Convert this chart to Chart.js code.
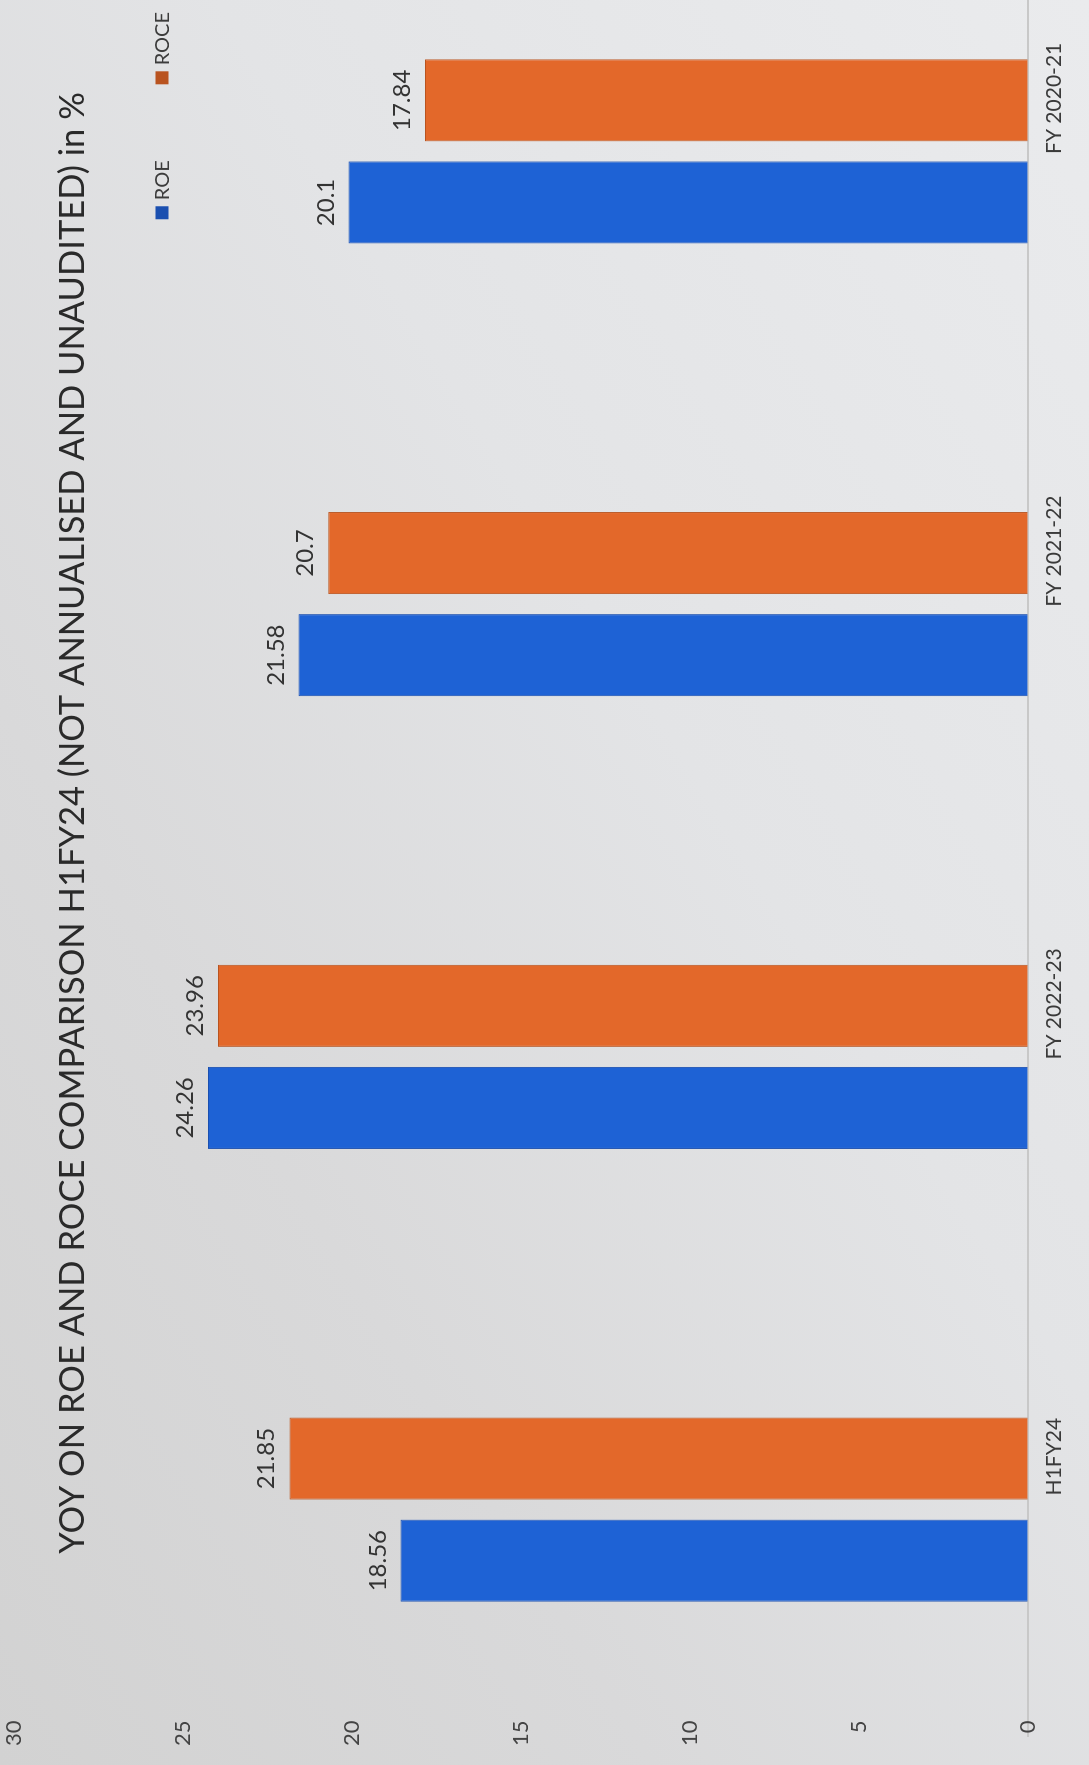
<!DOCTYPE html>
<html>
<head>
<meta charset="utf-8">
<script src="https://cdn.jsdelivr.net/npm/chart.js@4.4.1/dist/chart.umd.min.js"></script>
<style>
html, body { margin: 0; padding: 0; width: 1089px; height: 1765px; overflow: hidden; }
body { background: linear-gradient(to top right, #d2d2d2 0%, #d9d9da 30%, #e3e4e6 60%, #eaebed 100%); }
#frame { position: absolute; left: 0; top: 0; width: 1089px; height: 1765px; overflow: hidden; }
#rot { position: absolute; left: 0; top: 0; width: 1840px; height: 1089px;
       transform-origin: 0 0; transform: translate(0px, 1765px) rotate(-90deg); }
canvas { display: block; }
</style>
</head>
<body>
<div id="frame"><div id="rot"><canvas id="c" width="1840" height="1089" style="width:1840px;height:1089px"></canvas></div></div>
<script>
// ---- data ----
const chartTitle = 'YOY ON ROE AND ROCE COMPARISON H1FY24 (NOT ANNUALISED AND UNAUDITED) in %';
const categories = ['H1FY24', 'FY 2022-23', 'FY 2021-22', 'FY 2020-21'];
const seriesNames = ['ROE', 'ROCE'];
const roeValues = [18.56, 24.26, 21.58, 20.1];
const roceValues = [21.85, 23.96, 20.7, 17.84];
const valueTicks = [0, 5, 10, 15, 20, 25, 30];

// ---- style ----
const seriesColors = ['#1e62d5', '#e3682a'];
const seriesBorders = ['#1a4fb0', '#b9531f'];
const FONT = 'Lato, "Liberation Sans", sans-serif';

const titlePlugin = {
  id: 'photoTitle',
  afterDraw(chart) {
    const { ctx } = chart;
    ctx.save();
    ctx.font = '34.5px ' + FONT;
    ctx.fillStyle = '#2a2a2a';
    ctx.textAlign = 'center';
    ctx.textBaseline = 'alphabetic';
    ctx.fillText(chartTitle, chart.width / 2 + 22, 84);
    ctx.restore();
  }
};

const legendPlugin = {
  id: 'photoLegend',
  afterDraw(chart) {
    const { ctx, chartArea } = chart;
    const ds = chart.data.datasets;
    ctx.save();
    ctx.font = '20px ' + FONT;
    ctx.textBaseline = 'middle';
    ctx.textAlign = 'left';
    const box = 13, gapBox = 6, gapItem = 76, cy = 162;
    const widths = ds.map(d => box + gapBox + ctx.measureText(d.label).width);
    const total = widths.reduce((a, b) => a + b, 0) + gapItem * (ds.length - 1);
    let x = chartArea.right - 87 - total;
    ds.forEach((d, i) => {
      ctx.fillStyle = d.borderColor;
      ctx.fillRect(x, cy - box / 2, box, box);
      ctx.fillStyle = '#3c3c3c';
      ctx.fillText(d.label, x + box + gapBox, cy + 1);
      x += widths[i] + gapItem;
    });
    ctx.restore();
  }
};

const valueLabelPlugin = {
  id: 'valueLabels',
  afterDatasetsDraw(chart) {
    const { ctx } = chart;
    ctx.save();
    ctx.font = '24px ' + FONT;
    ctx.fillStyle = '#333333';
    ctx.textAlign = 'center';
    ctx.textBaseline = 'alphabetic';
    chart.data.datasets.forEach((d, i) => {
      chart.getDatasetMeta(i).data.forEach((bar, j) => {
        ctx.fillText(String(d.data[j]), bar.x, bar.y - 15);
      });
    });
    ctx.restore();
  }
};

new Chart(document.getElementById('c'), {
  type: 'bar',
  data: {
    labels: categories,
    datasets: [
      { label: seriesNames[0], data: roeValues, backgroundColor: seriesColors[0], borderColor: seriesBorders[0],
        borderWidth: 1, categoryPercentage: 0.451, barPercentage: 0.804 },
      { label: seriesNames[1], data: roceValues, backgroundColor: seriesColors[1], borderColor: seriesBorders[1],
        borderWidth: 1, categoryPercentage: 0.451, barPercentage: 0.804 }
    ]
  },
  options: {
    responsive: false,
    animation: false,
    devicePixelRatio: 1,
    layout: { padding: { left: 0, right: 0, top: 14, bottom: 8 } },
    plugins: { legend: { display: false }, title: { display: false }, tooltip: { enabled: false } },
    scales: {
      x: {
        grid: { display: false, drawTicks: false },
        border: { display: true, color: '#c8c8c8', width: 2 },
        ticks: { color: '#3a3a3a', font: { family: FONT, size: 21 }, padding: 14, labelOffset: 53,
                 maxRotation: 0, autoSkip: false }
      },
      y: {
        min: 0, max: 30,
        grid: { display: false, drawTicks: false },
        border: { display: false },
        ticks: { stepSize: 5, color: '#444444', font: { family: FONT, size: 22 },
                 mirror: true, crossAlign: 'far', padding: -10, autoSkip: false },
        afterBuildTicks: (axis) => { axis.ticks = valueTicks.map(v => ({ value: v })); },
        afterFit: (axis) => { axis.width = 29; }
      }
    }
  },
  plugins: [titlePlugin, legendPlugin, valueLabelPlugin]
});
</script>
</body>
</html>
